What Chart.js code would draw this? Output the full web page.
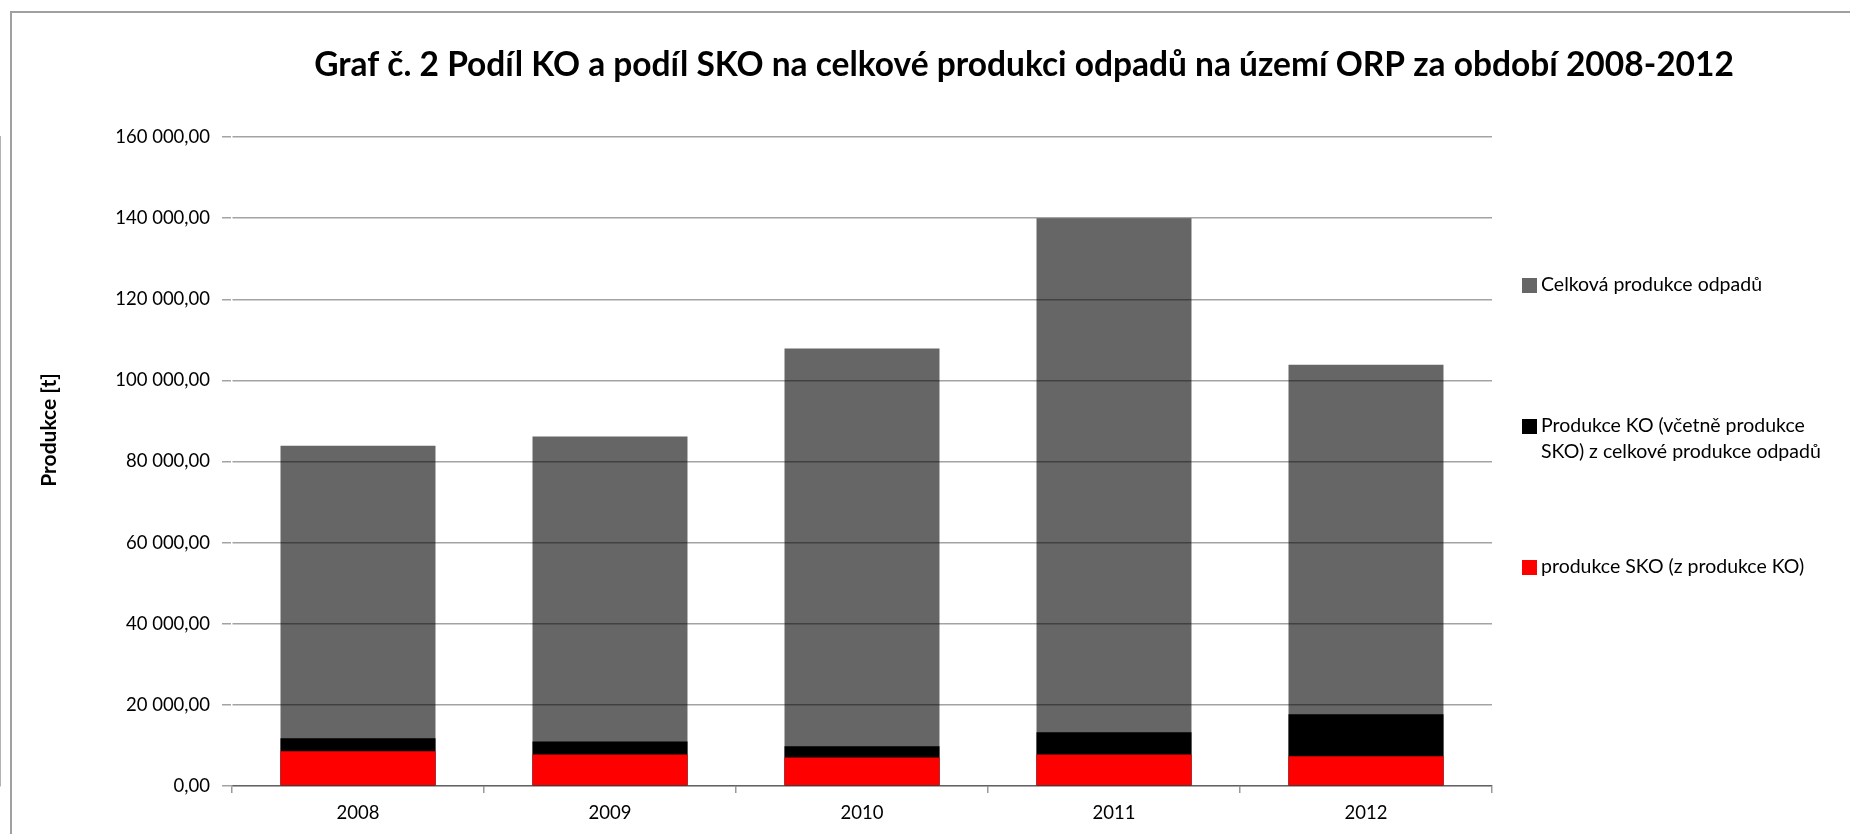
<!DOCTYPE html>
<html lang="cs">
<head>
<meta charset="utf-8">
<title>Graf č. 2</title>
<script src="https://cdn.jsdelivr.net/npm/chart.js@4.4.1/dist/chart.umd.min.js"></script>
<style>
  html, body { margin: 0; padding: 0; background: #fff; overflow: hidden; }
  .wrap { position: relative; width: 1850px; height: 834px; overflow: hidden; }
  .frame {
    position: absolute; left: 10px; top: 11px; width: 2000px; height: 1000px;
    border-left: 2px solid #a0a0a0; border-top: 2px solid #a0a0a0;
  }
  canvas { position: absolute; left: 0; top: 0; display: block; }
</style>
</head>
<body>
<div class="wrap">
  <div class="frame"></div>
  <canvas id="graf" width="1850" height="834"></canvas>
</div>
<script>
// roky a produkce odpadů v tunách
const years = ['2008', '2009', '2010', '2011', '2012'];
const celkovaProdukce = [83880, 86170, 107830, 140000, 103870];
const produkceKO = [11770, 10950, 9790, 13250, 17700];
const produkceSKO = [8560, 7740, 7000, 7740, 7330];

const seriesLabels = [
  'Celková produkce odpadů',
  'Produkce KO (včetně produkce SKO) z celkové produkce odpadů',
  'produkce SKO (z produkce KO)'
];
const seriesColors = ['#666666', '#000000', '#ff0000'];

const chartTitle = 'Graf č. 2 Podíl KO a podíl SKO na celkové produkci odpadů na území ORP za období 2008-2012';
const yTitle = 'Produkce [t]';

const fontFamily = 'Lato, "Open Sans", sans-serif';

// 160000 -> "160 000,00"
function formatCz(v) {
  const parts = Number(v).toFixed(2).split('.');
  return parts[0].replace(/\B(?=(\d{3})+(?!\d))/g, '\u00a0') + ',' + parts[1];
}

function wrapText(ctx, text, maxWidth) {
  const words = text.split(' ');
  const lines = [];
  let line = '';
  words.forEach(w => {
    const test = line ? line + ' ' + w : w;
    if (line && ctx.measureText(test).width > maxWidth) {
      lines.push(line);
      line = w;
    } else {
      line = test;
    }
  });
  if (line) lines.push(line);
  return lines;
}

// nadpis, popisek osy a legenda vpravo
const decorations = {
  id: 'decorations',
  afterDraw(chart) {
    const ctx = chart.ctx;
    ctx.save();
    ctx.fillStyle = '#000';

    ctx.font = 'bold 33.5px ' + fontFamily;
    ctx.textAlign = 'center';
    ctx.textBaseline = 'alphabetic';
    ctx.fillText(chartTitle, 1024, 76);

    ctx.save();
    ctx.translate(49, 430);
    ctx.rotate(-Math.PI / 2);
    ctx.font = 'bold 21px ' + fontFamily;
    ctx.textBaseline = 'middle';
    ctx.fillText(yTitle, 0, 0);
    ctx.restore();

    ctx.font = '19.5px ' + fontFamily;
    ctx.textAlign = 'left';
    ctx.textBaseline = 'middle';
    const itemY = [285, 426, 567];
    chart.data.datasets.forEach((ds, i) => {
      ctx.fillStyle = ds.backgroundColor;
      ctx.fillRect(1522, itemY[i] - 7, 15, 15);
      ctx.fillStyle = '#000';
      wrapText(ctx, ds.label, 290).forEach((ln, k) => {
        ctx.fillText(ln, 1541, itemY[i] + k * 26);
      });
    });
    ctx.restore();
  }
};

new Chart(document.getElementById('graf'), {
  type: 'bar',
  data: {
    labels: years,
    datasets: [
      { label: seriesLabels[0], data: celkovaProdukce, backgroundColor: seriesColors[0], order: 3 },
      { label: seriesLabels[1], data: produkceKO, backgroundColor: seriesColors[1], order: 2 },
      { label: seriesLabels[2], data: produkceSKO, backgroundColor: seriesColors[2], order: 1 }
    ]
  },
  options: {
    responsive: false,
    animation: false,
    devicePixelRatio: 1,
    grouped: false,
    categoryPercentage: 1,
    barPercentage: 0.615,
    layout: { padding: { top: 137, right: 358, bottom: 0, left: 0 } },
    plugins: {
      legend: { display: false },
      title: { display: false },
      tooltip: { enabled: false }
    },
    scales: {
      x: {
        grid: { offset: true, drawOnChartArea: false, tickLength: 7, color: '#9a9a9a', lineWidth: 1.5 },
        border: { color: '#9a9a9a', width: 1.5 },
        ticks: { color: '#000', padding: 9, font: { family: fontFamily, size: 18.5 } },
        afterFit(scale) { scale.height = 48; }
      },
      y: {
        min: 0,
        max: 160000,
        grid: { color: 'rgba(0,0,0,0.36)', lineWidth: 1.5, tickLength: 10, z: 1 },
        border: { color: '#9a9a9a', width: 1.5 },
        ticks: {
          stepSize: 20000,
          color: '#000',
          padding: 12,
          font: { family: fontFamily, size: 18.5 },
          callback: v => formatCz(v)
        },
        afterFit(scale) { scale.width = 232; }
      }
    }
  },
  plugins: [decorations]
});
</script>
</body>
</html>
